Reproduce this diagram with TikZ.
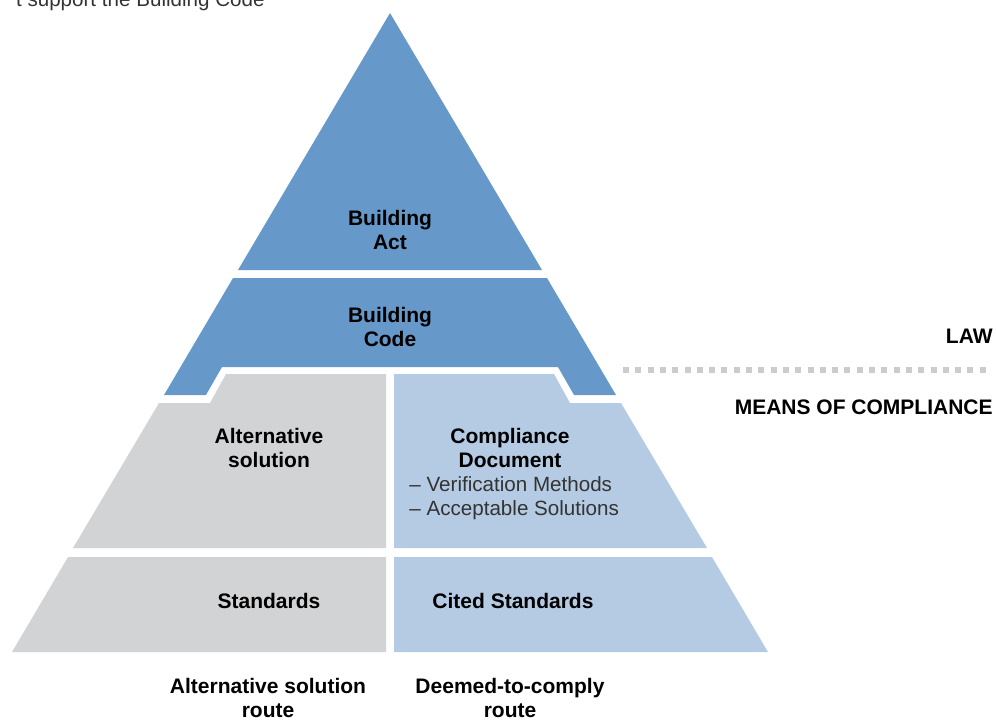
\documentclass[tikz,border=0pt]{standalone}
\usepackage{fontspec}
\setmainfont{Liberation Sans}

\definecolor{lawblue}{HTML}{6699C9}
\definecolor{docblue}{HTML}{B4CBE3}
\definecolor{altgrey}{HTML}{D1D3D4}
\definecolor{dotgrey}{HTML}{CCCCCC}

\tikzset{
  tiertext/.style={font=\bfseries\fontsize{10.5}{12}\selectfont, align=center, inner sep=0pt},
  listtext/.style={font=\fontsize{10.3}{12}\selectfont, align=left, inner sep=0pt, text=black!80},
}

\begin{document}
\begin{tikzpicture}[x=0.5pt,y=-0.5pt]
  \useasboundingbox (0,0) rectangle (996,720);
  \clip (0,0) rectangle (996,720);

  % caption, cut off at the top edge
  \node[listtext, anchor=base east] (caption) at (265,6) {t support the Building Code};

  % law: Act on top, Code below with its notch
  \fill[lawblue] (390,13) -- (542,270) -- (238,270) -- cycle;
  \fill[lawblue] (233,278) -- (547,278) -- (616,395) -- (574,395) -- (558,367)
    -- (222,367) -- (206,395) -- (164,395) -- cycle;

  % means of compliance, two routes side by side
  \fill[altgrey] (226,374) -- (386,374) -- (386,548) -- (73,548) -- (159,403) -- (210,403) -- cycle;
  \fill[docblue] (394,374) -- (554,374) -- (570,403) -- (621,403) -- (707,548) -- (394,548) -- cycle;
  \fill[altgrey] (68,557) -- (386,557) -- (386,652) -- (12,652) -- cycle;
  \fill[docblue] (394,557) -- (712,557) -- (768,652) -- (394,652) -- cycle;

  % divider between law and compliance
  \draw[dotgrey, line width=3pt, dash pattern=on 3pt off 3.15pt] (623,370) -- (988,370);
  \node[tiertext, anchor=east] (law) at (993,336) {LAW};
  \node[tiertext, anchor=east] (means) at (993,407) {MEANS OF COMPLIANCE};

  \node[tiertext] (act) at (390,230) {Building\\Act};
  \node[tiertext] (code) at (390,327) {Building\\Code};
  \node[tiertext] (altsol) at (269,448) {Alternative\\solution};
  \node[tiertext] (compdoc) at (510,448) {Compliance\\Document};
  \node[listtext, anchor=west] (methods) at (409,498) {-- Verification Methods\\-- Acceptable Solutions};
  \node[tiertext] (std) at (269,601) {Standards};
  \node[tiertext] (cited) at (513,601) {Cited Standards};

  % the two routes
  \node[tiertext] (altroute) at (268,698) {Alternative solution\\route};
  \node[tiertext] (dtcroute) at (510,698) {Deemed-to-comply\\route};
\end{tikzpicture}
\end{document}
